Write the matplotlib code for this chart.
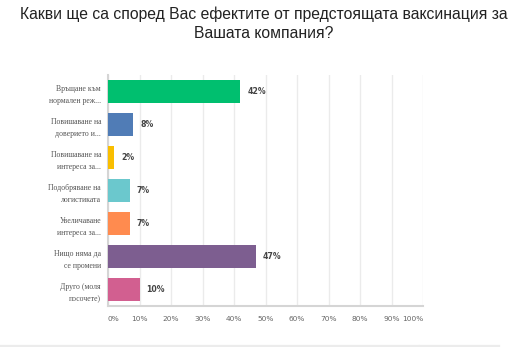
import matplotlib
matplotlib.use("Agg")
import matplotlib.pyplot as plt
import numpy as np

categories = [
    "Връщане към\nнормален реж...",
    "Повишаване на\nдоверието и...",
    "Повишаване на\nинтереса за...",
    "Подобряване на\nлогистиката",
    "Увеличаване\nинтереса за...",
    "Нищо няма да\nсе промени",
    "Друго (моля\nпосочете)",
]
values = [42, 8, 2, 7, 7, 47, 10]
value_labels = ["42%", "8%", "2%", "7%", "7%", "47%", "10%"]
colors = ["#00BF6F", "#507CB6", "#F9BE00", "#6BC8CD", "#FF8B4F", "#7D5E90", "#D25F90"]
tick_values = [0, 10, 20, 30, 40, 50, 60, 70, 80, 90, 100]
tick_labels = ["0%", "10%", "20%", "30%", "40%", "50%", "60%", "70%", "80%", "90%", "100%"]
title = "Какви ще са според Вас ефектите от предстоящата ваксинация за\nВашата компания?"

fig = plt.figure(figsize=(5.21, 3.47), dpi=100)
ax = fig.add_axes([108/521, 1-306/347, 315/521, 231/347])

y = np.arange(len(categories))
ax.barh(y, values, height=0.72, color=colors, zorder=3)
ax.set_ylim(len(categories) - 0.5, -0.5)
ax.set_xlim(0, 100)

for yi, v, lab in zip(y, values, value_labels):
    ax.annotate(lab, (v, yi), xytext=(5, 0), textcoords="offset points",
                va="center", ha="left", fontsize=5.6, fontweight="bold",
                color="#444444", family="DejaVu Sans")

ax.set_yticks(y)
ax.set_yticklabels(categories, family="Liberation Serif", fontsize=5.6,
                   color="#555555", linespacing=1.75)
ax.set_xticks(tick_values)
ax.set_xticklabels(tick_labels, fontsize=5.3, color="#666666", family="DejaVu Sans")
xt = ax.get_xticklabels()
xt[0].set_horizontalalignment("left")
xt[-1].set_horizontalalignment("right")
ax.tick_params(axis="both", length=0)
ax.tick_params(axis="x", pad=7)
ax.tick_params(axis="y", pad=5)

ax.grid(axis="x", color="#ebebeb", linewidth=1, zorder=0)
for s in ["top", "right"]:
    ax.spines[s].set_visible(False)
for s in ["left", "bottom"]:
    ax.spines[s].set_color("#d5d5d5")
    ax.spines[s].set_linewidth(1.5)

fig.text(264/521, 1 - 24/347, title, ha="center", va="center", fontsize=11.3,
         family="Liberation Sans", color="#222222", linespacing=1.35)

# bottom separator line
fig.add_artist(plt.Line2D([0, 419/521], [1-346/347, 1-346/347], color="#ececec", linewidth=1.6))
fig.add_artist(plt.Line2D([420/521, 499/521], [1-346/347, 1-346/347], color="#ececec", linewidth=1.6))

fig.savefig("out.png", dpi=100)
